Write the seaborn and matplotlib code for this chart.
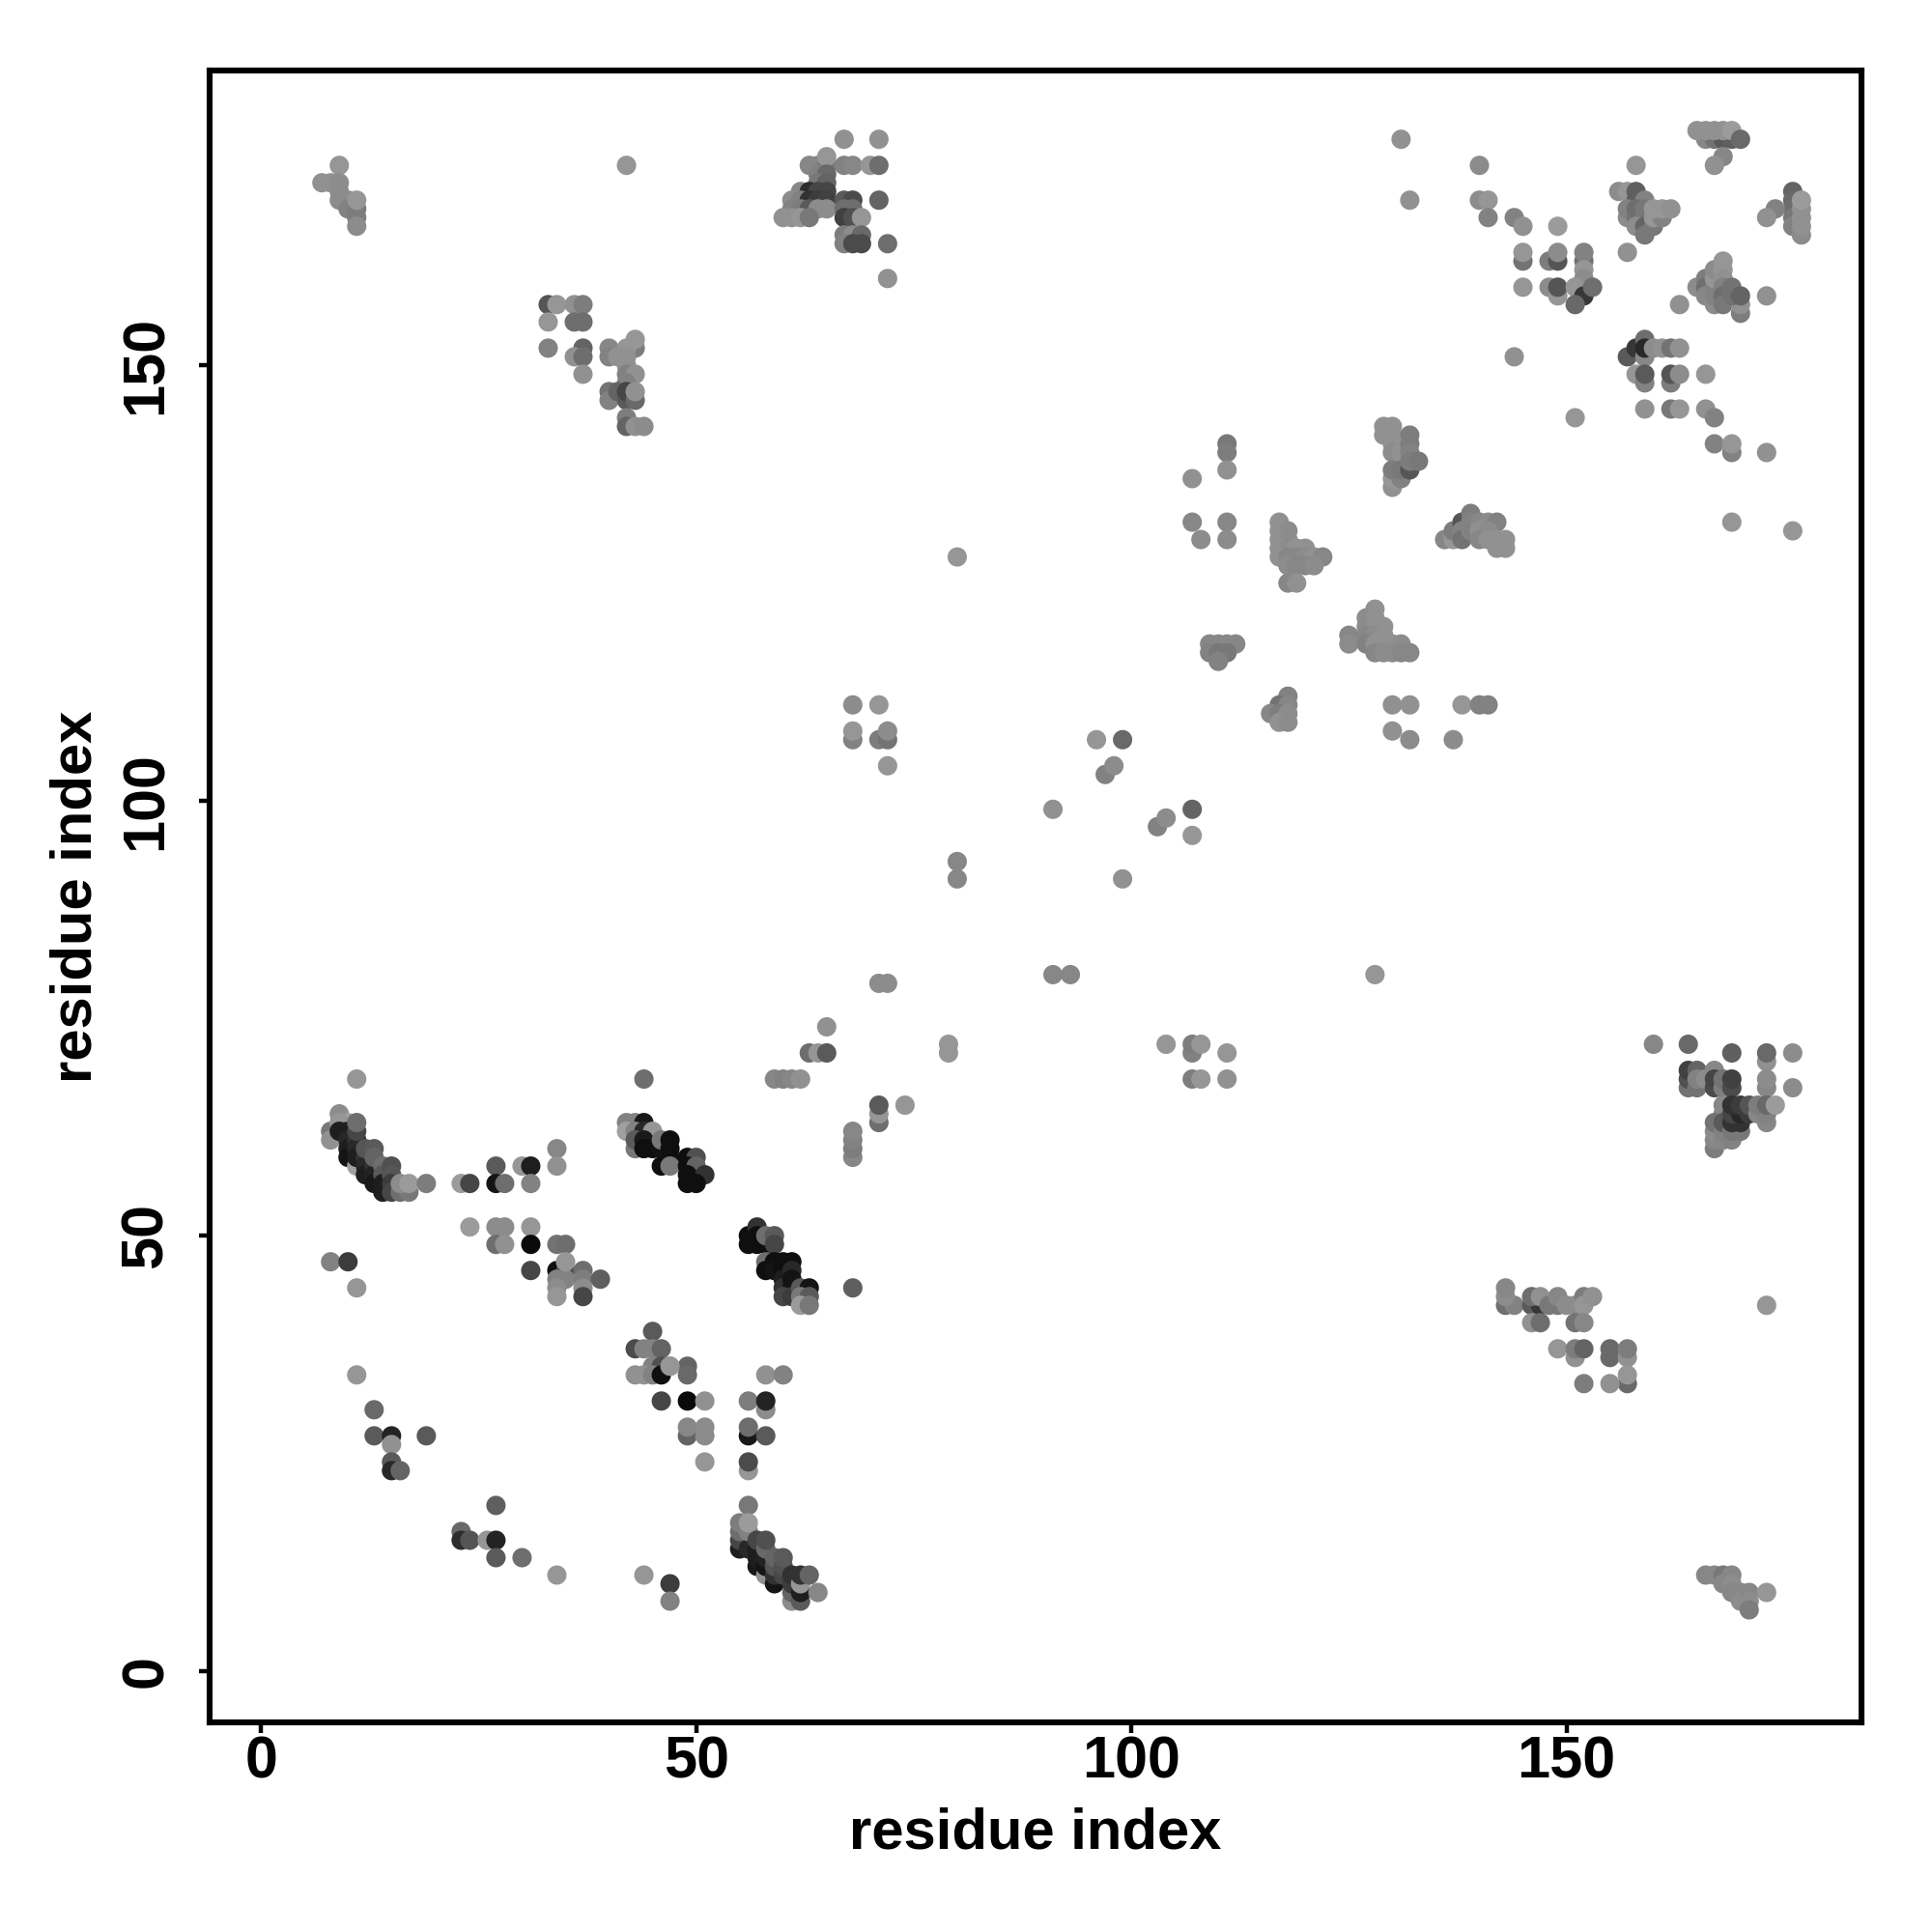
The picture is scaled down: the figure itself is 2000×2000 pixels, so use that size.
import matplotlib
matplotlib.use("Agg")
import matplotlib.pyplot as plt
import pandas as pd
import seaborn as sns

# (residue_x, residue_y, grey level), grouped by region
band_a = [(11,68,150),(9,64,140),(8,62,120),(8,61,145),(10,63,160),(9,63,150),(9,62,30),(10,62,30),(10,61,40),(10,60,30),
 (10,59,20),(11,58,160),(11,61,50),(11,60,40),(11,59,30),(12,59,50),(12,58,40),(12,57,30),(13,58,50),(13,57,35),(13,56,25),
 (11,62,70),(11,63,110),(12,60,85),(13,60,90),(13,59,100),(14,58,110),(14,57,90),(14,56,30),(14,55,30),(15,58,80),(15,57,85),
 (15,56,60),(15,55,70),(16,55,110),(17,55,120),(16,56,140),(17,56,155),(19,56,125)]
group_b = [(23,56,155),(24,56,70),(27,58,90),(27,56,20),(28,56,110),(30,58,150),(31,58,30),(31,56,130),(34,60,135),(34,58,145),
 (24,51,155),(27,51,140),(28,51,140),(31,51,150),(27,49,110),(28,49,145),(31,49,10),(34,49,115),(35,49,110),(31,46,70),
 (34,46,15),(35,46,70),(34,45,130),(35,45,130),(35,47,150),(34,44,140),(34,43,150),(37,46,110),(37,45,125),(37,44,140),
 (37,43,70),(39,45,95),(8,47,130),(10,47,60),(11,44,150)]
band_c = [(44,68,110),(42,63,130),(43,63,130),(44,63,25),(42,62,160),(43,62,130),(44,62,40),(45,62,150),(43,60,120),(43,61,90),
 (44,61,25),(44,60,15),(45,60,15),(46,60,20),(46,61,120),(47,61,15),(47,60,15),(47,59,15),(46,58,15),(47,58,120),(49,59,15),
 (50,59,80),(49,58,15),(50,58,100),(49,57,15),(51,57,50),(49,56,15),(50,56,15)]
band_d = [(56,50,15),(56,49,15),(57,51,50),(57,50,15),(57,49,15),(58,49,15),(58,50,110),(59,50,90),(59,49,70),(58,47,110),(58,46,15),
 (59,47,15),(59,46,20),(60,47,15),(60,46,15),(60,45,30),(60,44,50),(61,47,15),(61,46,40),(61,45,20),(61,44,20),(60,43,70),
 (61,43,60),(62,44,90),(63,44,20),(62,43,120),(63,43,90),(62,42,155),(63,42,120)]
group_e = [(13,30,105),(13,27,90),(15,27,35),(15,26,145),(19,27,90),(15,24,90),(15,23,40),(16,23,100),(27,19,95),(23,16,105),
 (23,15,45),(24,15,85),(26,15,150),(27,15,35),(27,13,90),(30,13,110),(34,11,150),(11,34,150),(44,11,150),(47,10,60),(47,8,130),
 (45,39,90),(43,37,75),(44,37,130),(45,37,130),(46,37,100),(45,35,130),(46,35,80),(47,35,150),(49,35,100),(43,34,145),(44,34,145),
 (45,34,130),(46,34,15),(49,34,105),(47,35,150),(58,34,145),(60,34,130),(46,31,70),(49,31,10),(51,31,145),(56,31,125),(58,30,140),
 (58,31,35),(49,27,100),(49,28,135),(51,27,140),(51,28,140),(56,27,25),(56,28,110),(58,27,90),(51,24,150),(56,23,150),(56,24,75),(56,19,120)]
band_f = [(55,14,30),(55,15,70),(55,16,110),(55,17,125),(56,14,40),(56,16,130),(56,17,155),(57,12,25),(57,13,30),(57,14,30),(57,15,70),
 (58,11,145),(58,12,20),(58,13,35),(58,14,105),(58,15,80),(59,10,20),(59,11,50),(59,12,85),(59,13,100),(60,11,70),(60,12,80),(60,13,90),
 (61,8,140),(61,9,100),(61,10,60),(61,11,50),(62,8,90),(62,9,30),(62,10,150),(62,11,50),(63,11,100),(64,9,135)]
upper_left = [(9,173,150),(7,171,145),(8,171,145),(9,171,140),(9,170,140),(9,169,140),(10,169,140),(10,168,130),(11,168,125),(11,167,125),
 (11,169,150),(11,166,140),(42,173,150),(33,157,85),(34,157,150),(36,157,145),(37,157,125),(33,155,150),(36,155,110),(37,155,110),
 (33,152,130),(37,152,100),(36,151,145),(37,151,110),(37,149,145),(40,152,135),(40,151,130),(43,152,125),(43,153,150),(42,152,150),
 (41,151,145),(42,151,145),(42,150,145),(42,149,130),(43,149,145),(42,148,130),(40,147,115),(40,146,130),(41,147,100),(42,146,90),
 (42,147,70),(43,146,105),(43,147,145),(42,144,125),(42,143,100),(43,143,145),(44,143,140)]
upper_mid = [(67,176,145),(71,176,145),(63,173,135),(64,173,135),(65,173,120),(65,174,150),(67,173,130),(68,173,135),(70,173,150),(71,173,110),
 (64,172,130),(65,172,105),(64,171,120),(65,171,100),(62,170,135),(63,170,45),(64,170,70),(65,170,70),(61,169,140),(62,169,130),
 (63,169,50),(64,169,60),(65,169,65),(67,169,90),(68,169,75),(71,169,100),(61,168,130),(62,168,125),(63,168,90),(64,168,140),
 (65,168,140),(67,168,110),(68,168,110),(60,167,145),(61,167,145),(62,167,150),(63,167,120),(67,167,65),(68,167,80),(69,167,150),
 (67,165,125),(68,165,140),(69,165,105),(67,164,130),(68,164,75),(69,164,75),(72,164,110),(72,160,145)]
top_right = [(131,176,145),(140,173,140),(132,169,145),(140,169,140),(141,169,150),(141,167,130),(144,167,130),(145,166,145),(149,166,155),
 (145,162,115),(145,163,150),(148,162,125),(149,162,85),(149,163,140),(152,162,115),(152,163,130),(152,161,150),(152,160,140),(145,159,150),
 (148,159,140),(149,158,150),(149,159,85),(151,159,150),(152,158,55),(153,159,110),(151,157,105),(157,163,145),(158,173,150),(156,170,140),
 (157,170,150),(158,170,95),(158,169,95),(159,169,130),(157,167,140),(157,168,130),(158,167,115),(158,168,110),(159,167,120),(159,168,120),
 (158,166,140),(159,166,100),(160,166,120),(159,165,120),(160,167,150),(161,167,130),(160,168,150),(161,168,150),(162,168,145),(163,157,145),
 (166,176,135),(167,176,115),(168,176,90),(169,176,95),(165,177,145),(166,177,145),(167,177,145),(168,177,145),(169,177,155),(170,176,105),
 (168,174,135),(167,173,145),(176,170,100),(176,169,105),(176,168,110),(176,167,120),(176,166,130),(177,165,140),(177,166,145),(177,167,145),
 (177,168,145),(177,169,155),(174,168,130),(173,167,145),(173,158,145),(165,159,140),(166,160,125),(166,159,110),(166,158,135),(167,157,140),
 (167,158,130),(167,159,130),(167,160,150),(167,161,140),(168,162,150),(168,161,150),(168,160,145),(168,159,130),(168,158,110),(168,157,120),
 (169,159,115),(170,156,125),(170,157,145),(169,158,115),(170,158,100)]
right_mid = [(157,151,90),(158,152,55),(159,153,110),(159,151,135),(159,152,40),(160,152,140),(161,152,145),(162,152,115),(163,152,145),
 (158,149,150),(159,148,130),(159,149,90),(162,148,125),(162,149,85),(163,149,140),(166,149,150),(159,145,145),(162,145,120),(163,145,150),
 (166,145,145),(167,144,130),(167,141,130),(169,140,130),(169,141,150),(173,140,145),(169,132,150),(176,131,150),(144,151,145),(151,144,150)]
mid_diag = [(129,143,145),(130,143,145),(129,142,145),(130,142,145),(130,141,145),(130,140,140),(131,140,145),(132,142,125),(132,141,125),
 (132,140,130),(130,136,145),(130,137,150),(131,137,130),(130,138,125),(131,138,120),(132,138,85),(132,139,125),(133,139,120),
 (136,130,135),(137,130,150),(137,131,125),(138,132,85),(138,131,130),(138,130,115),(139,133,125),(139,132,130),(139,131,130),
 (140,132,135),(141,132,140),(142,132,130),(140,131,145),(141,131,140),(140,130,135),(141,130,145),(142,130,145),(143,130,145),
 (142,129,145),(143,129,145),(111,141,120),(111,140,125),(111,138,145),(107,137,145),(107,132,135),(111,132,135),(108,130,140),(111,130,140)]
centre = [(117,132,145),(117,131,145),(118,131,140),(117,130,145),(118,130,140),(117,129,145),(118,129,140),(119,129,145),(120,129,145),
 (117,128,145),(118,128,135),(119,128,135),(120,128,140),(121,128,145),(122,128,135),(118,127,140),(119,127,135),(120,127,135),(121,127,140),
 (118,125,135),(119,125,145),(80,128,150),(109,118,135),(110,118,135),(111,118,135),(112,118,135),(109,117,130),(110,117,120),(111,117,120),
 (110,116,130),(125,119,135),(125,118,140),(128,122,145),(127,121,140),(128,121,145),(127,120,140),(128,120,145),(129,120,145),(127,119,135),
 (128,119,140),(129,119,145),(127,118,130),(128,118,145),(129,118,145),(130,118,145),(131,118,140),(128,117,135),(129,117,140),(130,117,140),
 (131,117,135),(132,117,135),(130,111,145),(132,111,145),(138,111,150),(140,111,130),(141,111,130),(130,108,145),(132,107,140),(137,107,140),
 (118,112,130),(117,111,115),(118,111,135),(116,110,135),(117,110,125),(118,110,140),(117,109,145),(118,109,140),(128,80,150)]
scatter_mid = [(68,111,140),(71,111,150),(68,107,130),(68,108,150),(71,107,125),(72,107,115),(72,108,140),(72,104,150),(96,107,150),(99,107,105),
 (97,103,130),(98,104,140),(91,99,145),(107,99,100),(103,97,130),(104,98,140),(107,96,150),(80,91,135),(80,93,135),(99,91,145),(71,79,140),
 (72,79,140),(91,80,135),(93,80,135),(65,74,145),(63,71,110),(64,71,150),(65,71,90),(79,71,150),(79,72,150),(59,68,135),(60,68,130),(61,68,135),
 (62,68,145),(71,63,110),(71,64,150),(71,65,90),(74,65,150),(68,59,135),(68,60,125),(68,61,130),(68,62,135),(68,44,95),(107,71,130),(107,72,125),
 (108,72,150),(104,72,150),(111,71,150),(107,68,125),(108,68,150),(111,68,145)]
lower_right = [(160,72,135),(164,72,105),(169,71,95),(173,70,145),(173,71,105),(176,71,140),(176,67,140),(173,67,135),(173,68,140),(164,67,115),
 (164,68,80),(164,69,65),(165,67,115),(165,69,100),(165,68,130),(166,68,140),(167,69,135),(167,67,75),(167,68,70),(168,67,125),(168,68,115),
 (169,67,75),(169,68,65),(168,65,135),(168,64,135),(167,60,125),(167,61,135),(167,62,140),(167,63,115),(168,61,135),(168,62,130),(168,63,90),
 (169,61,130),(169,62,120),(170,62,120),(169,63,50),(170,63,50),(169,64,70),(170,64,40),(171,64,60),(169,65,50),(170,65,60),(171,65,85),
 (173,63,135),(172,64,135),(173,64,130),(172,65,125),(173,65,105),(174,65,155)]
lower_tail = [(143,42,110),(144,42,130),(143,43,140),(143,44,135),(146,42,90),(147,42,55),(146,43,110),(147,43,145),(148,42,120),(149,42,120),
 (149,43,135),(150,42,140),(151,42,140),(152,43,125),(152,42,150),(153,43,145),(146,40,145),(147,40,110),(151,40,115),(152,40,135),(149,37,150),
 (151,36,145),(151,37,125),(152,37,100),(155,36,105),(155,37,105),(157,36,145),(157,37,125),(157,33,105),(157,34,150),(152,33,125),(155,33,145),
 (173,42,150),(166,11,135),(167,11,135),(168,11,120),(169,11,135),(168,10,135),(169,10,140),(169,9,135),(170,9,135),(170,8,140),(171,9,135),
 (171,8,140),(171,7,125),(173,9,150)]

groups = [upper_left, upper_mid, top_right, right_mid, mid_diag, centre, scatter_mid, lower_right, lower_tail,
          group_b, group_e, band_a, band_c, band_d, band_f]
residue_x = [p[0] for g in groups for p in g]
residue_y = [p[1] for g in groups for p in g]
grey = [p[2] for g in groups for p in g]
df = pd.DataFrame({"x": residue_x, "y": residue_y, "grey": grey})

sns.set_theme(style="white")
plt.rcParams["font.family"] = ["Liberation Sans", "DejaVu Sans"]
fig = plt.figure(figsize=(10, 10), dpi=200)
ax = fig.add_axes([0.1085, 0.1085, 0.855, 0.855])
sns.scatterplot(data=df, x="x", y="y", hue="grey", palette="gray", hue_norm=(0, 255),
                s=52, linewidth=0, legend=False, ax=ax)
ax.set_xlim(-5.9, 183.9)
ax.set_ylim(-5.93, 183.9)
ticks = [0, 50, 100, 150]
ax.set_xticks(ticks)
ax.set_yticks(ticks)
ax.set_xticklabels([str(t) for t in ticks], fontsize=22, fontweight="bold", color="black")
ax.set_yticklabels([str(t) for t in ticks], fontsize=22, fontweight="bold", color="black",
                   rotation=90, va="center")
ax.tick_params(axis="x", length=4, width=1.6, color="black", bottom=True, pad=1)
ax.tick_params(axis="y", length=4, width=1.6, color="black", left=True, pad=9)
ax.set_xlabel("residue index", fontsize=21.5, fontweight="bold", color="black", labelpad=5.8)
ax.set_ylabel("residue index", fontsize=21.5, fontweight="bold", color="black", labelpad=6.3)
for s in ax.spines.values():
    s.set_visible(True)
    s.set_linewidth(2.2)
    s.set_color("black")
fig.savefig("out.png", dpi=200, facecolor="white")
